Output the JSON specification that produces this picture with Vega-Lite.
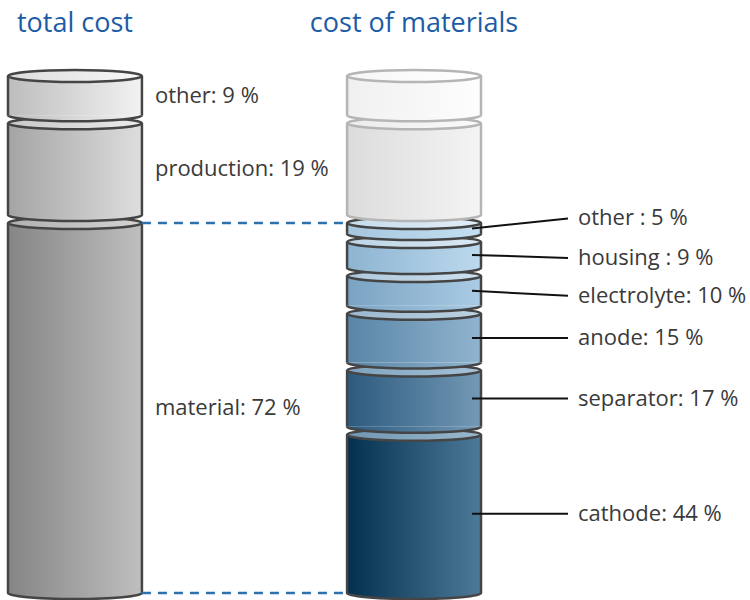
{
  "$schema": "https://vega.github.io/schema/vega-lite/v6.json",
  "width": 750,
  "height": 600,
  "autosize": "none",
  "padding": 0,
  "background": "white",
  "config": {"view": {"stroke": null}},
  "data": {"values": [
    {"col": "total cost", "key": "t_material", "kind": "total", "pct": 72, "base": 100, "ord": 1, "label": "material: 72 %"},
    {"col": "total cost", "key": "t_production", "kind": "total", "pct": 19, "base": 100, "ord": 2, "label": "production: 19 %"},
    {"col": "total cost", "key": "t_other", "kind": "total", "pct": 9, "base": 100, "ord": 3, "label": "other: 9 %"},
    {"col": "cost of materials", "key": "m_cathode", "kind": "mat", "pct": 44, "base": 72, "ord": 1, "label": "cathode: 44 %"},
    {"col": "cost of materials", "key": "m_separator", "kind": "mat", "pct": 17, "base": 72, "ord": 2, "label": "separator: 17 %"},
    {"col": "cost of materials", "key": "m_anode", "kind": "mat", "pct": 15, "base": 72, "ord": 3, "label": "anode: 15 %"},
    {"col": "cost of materials", "key": "m_electrolyte", "kind": "mat", "pct": 10, "base": 72, "ord": 4, "label": "electrolyte: 10 %"},
    {"col": "cost of materials", "key": "m_housing", "kind": "mat", "pct": 9, "base": 72, "ord": 5, "label": "housing : 9 %"},
    {"col": "cost of materials", "key": "m_other", "kind": "mat", "pct": 5, "base": 72, "ord": 6, "label": "other : 5 %"},
    {"col": "cost of materials", "key": "g_production", "kind": "ghost", "pct": 19, "base": 100, "ord": 7, "label": ""},
    {"col": "cost of materials", "key": "g_other", "kind": "ghost", "pct": 9, "base": 100, "ord": 8, "label": ""}
  ]},
  "transform": [
    {"calculate": "datum.pct * datum.base / 100", "as": "share"},
    {"stack": "share", "groupby": ["col"], "sort": [{"field": "ord", "order": "ascending"}], "as": ["y0", "y1"]},
    {"calculate": "(datum.y0 + datum.y1) / 2", "as": "mid"}
  ],
  "layer": [
    {"transform": [{"filter": "datum.key == 't_other'"}],
     "mark": {"type": "bar", "yOffset": 4, "y2Offset": -4, "fill": {"gradient": "linear", "stops": [{"offset": 0, "color": "#bdbdbd"}, {"offset": 1, "color": "#f2f2f2"}]}},
     "encoding": {
       "x": {"field": "col", "type": "nominal", "sort": null,
         "scale": {"type": "band", "domain": ["total cost", "cost of materials"], "range": [8, 481], "paddingInner": 0.605, "paddingOuter": 0},
         "axis": {"orient": "top", "title": null, "domain": false, "ticks": false, "grid": false, "labelAngle": 0, "labelLimit": 0, "labelFont": "Open Sans", "labelFontSize": 27, "labelColor": "#1b5ca6", "labelPadding": 0, "labelBaseline": "alphabetic", "offset": -31}},
       "y": {"field": "y1", "type": "quantitative", "scale": {"domain": [0, 100], "range": [597, 72], "nice": false, "zero": false}, "axis": null},
       "y2": {"field": "y0"}}},
    {"transform": [{"filter": "datum.key == 't_production'"}],
     "mark": {"type": "bar", "yOffset": 4, "y2Offset": -4, "fill": {"gradient": "linear", "stops": [{"offset": 0, "color": "#a4a4a4"}, {"offset": 1, "color": "#dedede"}]}},
     "encoding": {"x": {"field": "col", "type": "nominal"}, "y": {"field": "y1", "type": "quantitative", "axis": null}, "y2": {"field": "y0"}}},
    {"transform": [{"filter": "datum.key == 't_material'"}],
     "mark": {"type": "bar", "yOffset": 4, "y2Offset": -4, "fill": {"gradient": "linear", "stops": [{"offset": 0, "color": "#858585"}, {"offset": 1, "color": "#bfbfbf"}]}},
     "encoding": {"x": {"field": "col", "type": "nominal"}, "y": {"field": "y1", "type": "quantitative", "axis": null}, "y2": {"field": "y0"}}},
    {"transform": [{"filter": "datum.key == 'm_cathode'"}],
     "mark": {"type": "bar", "yOffset": 4, "y2Offset": -4, "fill": {"gradient": "linear", "stops": [{"offset": 0, "color": "#04304f"}, {"offset": 1, "color": "#4c7a98"}]}},
     "encoding": {"x": {"field": "col", "type": "nominal"}, "y": {"field": "y1", "type": "quantitative", "axis": null}, "y2": {"field": "y0"}}},
    {"transform": [{"filter": "datum.key == 'm_separator'"}],
     "mark": {"type": "bar", "yOffset": 4, "y2Offset": -4, "fill": {"gradient": "linear", "stops": [{"offset": 0, "color": "#2c5a7e"}, {"offset": 1, "color": "#7399b5"}]}},
     "encoding": {"x": {"field": "col", "type": "nominal"}, "y": {"field": "y1", "type": "quantitative", "axis": null}, "y2": {"field": "y0"}}},
    {"transform": [{"filter": "datum.key == 'm_anode'"}],
     "mark": {"type": "bar", "yOffset": 4, "y2Offset": -4, "fill": {"gradient": "linear", "stops": [{"offset": 0, "color": "#5985a6"}, {"offset": 1, "color": "#90b4cf"}]}},
     "encoding": {"x": {"field": "col", "type": "nominal"}, "y": {"field": "y1", "type": "quantitative", "axis": null}, "y2": {"field": "y0"}}},
    {"transform": [{"filter": "datum.key == 'm_electrolyte'"}],
     "mark": {"type": "bar", "yOffset": 4, "y2Offset": -4, "fill": {"gradient": "linear", "stops": [{"offset": 0, "color": "#7aa3c2"}, {"offset": 1, "color": "#aacbe4"}]}},
     "encoding": {"x": {"field": "col", "type": "nominal"}, "y": {"field": "y1", "type": "quantitative", "axis": null}, "y2": {"field": "y0"}}},
    {"transform": [{"filter": "datum.key == 'm_housing'"}],
     "mark": {"type": "bar", "yOffset": 4, "y2Offset": -4, "fill": {"gradient": "linear", "stops": [{"offset": 0, "color": "#8db4d1"}, {"offset": 1, "color": "#bcd9ee"}]}},
     "encoding": {"x": {"field": "col", "type": "nominal"}, "y": {"field": "y1", "type": "quantitative", "axis": null}, "y2": {"field": "y0"}}},
    {"transform": [{"filter": "datum.key == 'm_other'"}],
     "mark": {"type": "bar", "yOffset": 4, "y2Offset": -4, "fill": {"gradient": "linear", "stops": [{"offset": 0, "color": "#a6c6de"}, {"offset": 1, "color": "#c4dff2"}]}},
     "encoding": {"x": {"field": "col", "type": "nominal"}, "y": {"field": "y1", "type": "quantitative", "axis": null}, "y2": {"field": "y0"}}},
    {"transform": [{"filter": "datum.key == 'g_production'"}],
     "mark": {"type": "bar", "yOffset": 4, "y2Offset": -4, "fill": {"gradient": "linear", "stops": [{"offset": 0, "color": "#dcdcdc"}, {"offset": 1, "color": "#f4f4f4"}]}},
     "encoding": {"x": {"field": "col", "type": "nominal"}, "y": {"field": "y1", "type": "quantitative", "axis": null}, "y2": {"field": "y0"}}},
    {"transform": [{"filter": "datum.key == 'g_other'"}],
     "mark": {"type": "bar", "yOffset": 4, "y2Offset": -4, "fill": {"gradient": "linear", "stops": [{"offset": 0, "color": "#f0f0f0"}, {"offset": 1, "color": "#fdfdfd"}]}},
     "encoding": {"x": {"field": "col", "type": "nominal"}, "y": {"field": "y1", "type": "quantitative", "axis": null}, "y2": {"field": "y0"}}},

    {"mark": {"type": "rule", "yOffset": 4, "y2Offset": -4, "strokeWidth": 2.5},
     "encoding": {
       "x": {"field": "col", "type": "nominal", "bandPosition": 0},
       "y": {"field": "y1", "type": "quantitative", "axis": null},
       "y2": {"field": "y0"},
       "stroke": {"field": "kind", "type": "nominal", "legend": null, "scale": {"domain": ["total", "mat", "ghost"], "range": ["#454545", "#454545", "#b5b5b5"]}}}},
    {"mark": {"type": "rule", "yOffset": 4, "y2Offset": -4, "strokeWidth": 2.5},
     "encoding": {
       "x": {"field": "col", "type": "nominal", "bandPosition": 1},
       "y": {"field": "y1", "type": "quantitative", "axis": null},
       "y2": {"field": "y0"},
       "stroke": {"field": "kind", "type": "nominal", "legend": null}}},

    {"transform": [{"filter": "datum.key == 't_other'"}],
     "mark": {"type": "point", "filled": true, "opacity": 1, "yOffset": 4, "strokeWidth": 2.5, "size": 17930, "shape": "M-1,0A1,0.09,0,1,1,1,0A1,0.09,0,1,1,-1,0Z", "stroke": "#454545", "fill": {"gradient": "linear", "stops": [{"offset": 0, "color": "#dcdcdc"}, {"offset": 1, "color": "#f8f8f8"}]}},
     "encoding": {"x": {"field": "col", "type": "nominal"}, "y": {"field": "y1", "type": "quantitative", "axis": null}}},
    {"transform": [{"filter": "datum.key == 't_production'"}],
     "mark": {"type": "point", "filled": true, "opacity": 1, "yOffset": 4, "strokeWidth": 2.5, "size": 17930, "shape": "M-1,0A1,0.09,0,1,1,1,0A1,0.09,0,1,1,-1,0Z", "stroke": "#454545", "fill": {"gradient": "linear", "stops": [{"offset": 0, "color": "#c8c8c8"}, {"offset": 1, "color": "#ececec"}]}},
     "encoding": {"x": {"field": "col", "type": "nominal"}, "y": {"field": "y1", "type": "quantitative", "axis": null}}},
    {"transform": [{"filter": "datum.key == 't_material'"}],
     "mark": {"type": "point", "filled": true, "opacity": 1, "yOffset": 4, "strokeWidth": 2.5, "size": 17930, "shape": "M-1,0A1,0.09,0,1,1,1,0A1,0.09,0,1,1,-1,0Z", "stroke": "#454545", "fill": {"gradient": "linear", "stops": [{"offset": 0, "color": "#b0b0b0"}, {"offset": 1, "color": "#d4d4d4"}]}},
     "encoding": {"x": {"field": "col", "type": "nominal"}, "y": {"field": "y1", "type": "quantitative", "axis": null}}},
    {"transform": [{"filter": "datum.key == 'm_cathode'"}],
     "mark": {"type": "point", "filled": true, "opacity": 1, "yOffset": 4, "strokeWidth": 2.5, "size": 17930, "shape": "M-1,0A1,0.09,0,1,1,1,0A1,0.09,0,1,1,-1,0Z", "stroke": "#454545", "fill": {"gradient": "linear", "stops": [{"offset": 0, "color": "#7096b2"}, {"offset": 1, "color": "#9ab8cc"}]}},
     "encoding": {"x": {"field": "col", "type": "nominal"}, "y": {"field": "y1", "type": "quantitative", "axis": null}}},
    {"transform": [{"filter": "datum.key == 'm_separator'"}],
     "mark": {"type": "point", "filled": true, "opacity": 1, "yOffset": 4, "strokeWidth": 2.5, "size": 17930, "shape": "M-1,0A1,0.09,0,1,1,1,0A1,0.09,0,1,1,-1,0Z", "stroke": "#454545", "fill": {"gradient": "linear", "stops": [{"offset": 0, "color": "#7ea2be"}, {"offset": 1, "color": "#a6c2d6"}]}},
     "encoding": {"x": {"field": "col", "type": "nominal"}, "y": {"field": "y1", "type": "quantitative", "axis": null}}},
    {"transform": [{"filter": "datum.key == 'm_anode'"}],
     "mark": {"type": "point", "filled": true, "opacity": 1, "yOffset": 4, "strokeWidth": 2.5, "size": 17930, "shape": "M-1,0A1,0.09,0,1,1,1,0A1,0.09,0,1,1,-1,0Z", "stroke": "#454545", "fill": {"gradient": "linear", "stops": [{"offset": 0, "color": "#9ab8cf"}, {"offset": 1, "color": "#bcd2e2"}]}},
     "encoding": {"x": {"field": "col", "type": "nominal"}, "y": {"field": "y1", "type": "quantitative", "axis": null}}},
    {"transform": [{"filter": "datum.key == 'm_electrolyte'"}],
     "mark": {"type": "point", "filled": true, "opacity": 1, "yOffset": 4, "strokeWidth": 2.5, "size": 17930, "shape": "M-1,0A1,0.09,0,1,1,1,0A1,0.09,0,1,1,-1,0Z", "stroke": "#454545", "fill": {"gradient": "linear", "stops": [{"offset": 0, "color": "#aec8dc"}, {"offset": 1, "color": "#cde0ee"}]}},
     "encoding": {"x": {"field": "col", "type": "nominal"}, "y": {"field": "y1", "type": "quantitative", "axis": null}}},
    {"transform": [{"filter": "datum.key == 'm_housing'"}],
     "mark": {"type": "point", "filled": true, "opacity": 1, "yOffset": 4, "strokeWidth": 2.5, "size": 17930, "shape": "M-1,0A1,0.09,0,1,1,1,0A1,0.09,0,1,1,-1,0Z", "stroke": "#454545", "fill": {"gradient": "linear", "stops": [{"offset": 0, "color": "#bcd4e6"}, {"offset": 1, "color": "#dae9f4"}]}},
     "encoding": {"x": {"field": "col", "type": "nominal"}, "y": {"field": "y1", "type": "quantitative", "axis": null}}},
    {"transform": [{"filter": "datum.key == 'm_other'"}],
     "mark": {"type": "point", "filled": true, "opacity": 1, "yOffset": 4, "strokeWidth": 2.5, "size": 17930, "shape": "M-1,0A1,0.09,0,1,1,1,0A1,0.09,0,1,1,-1,0Z", "stroke": "#454545", "fill": {"gradient": "linear", "stops": [{"offset": 0, "color": "#c6dcec"}, {"offset": 1, "color": "#e2eef8"}]}},
     "encoding": {"x": {"field": "col", "type": "nominal"}, "y": {"field": "y1", "type": "quantitative", "axis": null}}},
    {"transform": [{"filter": "datum.key == 'g_production'"}],
     "mark": {"type": "point", "filled": true, "opacity": 1, "yOffset": 4, "strokeWidth": 2.5, "size": 17930, "shape": "M-1,0A1,0.09,0,1,1,1,0A1,0.09,0,1,1,-1,0Z", "stroke": "#b5b5b5", "fill": {"gradient": "linear", "stops": [{"offset": 0, "color": "#ececec"}, {"offset": 1, "color": "#fafafa"}]}},
     "encoding": {"x": {"field": "col", "type": "nominal"}, "y": {"field": "y1", "type": "quantitative", "axis": null}}},
    {"transform": [{"filter": "datum.key == 'g_other'"}],
     "mark": {"type": "point", "filled": true, "opacity": 1, "yOffset": 4, "strokeWidth": 2.5, "size": 17930, "shape": "M-1,0A1,0.09,0,1,1,1,0A1,0.09,0,1,1,-1,0Z", "stroke": "#b5b5b5", "fill": {"gradient": "linear", "stops": [{"offset": 0, "color": "#f6f6f6"}, {"offset": 1, "color": "#ffffff"}]}},
     "encoding": {"x": {"field": "col", "type": "nominal"}, "y": {"field": "y1", "type": "quantitative", "axis": null}}},

    {"transform": [{"filter": "datum.key == 't_other'"}],
     "mark": {"type": "point", "filled": true, "opacity": 1, "yOffset": -4, "strokeWidth": 2.5, "size": 17930, "shape": "M-1,0A1,0.09,0,0,0,1,0", "stroke": "#454545", "fill": {"gradient": "linear", "stops": [{"offset": 0, "color": "#bdbdbd"}, {"offset": 1, "color": "#f2f2f2"}]}},
     "encoding": {"x": {"field": "col", "type": "nominal"}, "y": {"field": "y0", "type": "quantitative", "axis": null}}},
    {"transform": [{"filter": "datum.key == 't_production'"}],
     "mark": {"type": "point", "filled": true, "opacity": 1, "yOffset": -4, "strokeWidth": 2.5, "size": 17930, "shape": "M-1,0A1,0.09,0,0,0,1,0", "stroke": "#454545", "fill": {"gradient": "linear", "stops": [{"offset": 0, "color": "#a4a4a4"}, {"offset": 1, "color": "#dedede"}]}},
     "encoding": {"x": {"field": "col", "type": "nominal"}, "y": {"field": "y0", "type": "quantitative", "axis": null}}},
    {"transform": [{"filter": "datum.key == 't_material'"}],
     "mark": {"type": "point", "filled": true, "opacity": 1, "yOffset": -4, "strokeWidth": 2.5, "size": 17930, "shape": "M-1,0A1,0.09,0,0,0,1,0", "stroke": "#454545", "fill": {"gradient": "linear", "stops": [{"offset": 0, "color": "#858585"}, {"offset": 1, "color": "#bfbfbf"}]}},
     "encoding": {"x": {"field": "col", "type": "nominal"}, "y": {"field": "y0", "type": "quantitative", "axis": null}}},
    {"transform": [{"filter": "datum.key == 'm_cathode'"}],
     "mark": {"type": "point", "filled": true, "opacity": 1, "yOffset": -4, "strokeWidth": 2.5, "size": 17930, "shape": "M-1,0A1,0.09,0,0,0,1,0", "stroke": "#454545", "fill": {"gradient": "linear", "stops": [{"offset": 0, "color": "#04304f"}, {"offset": 1, "color": "#4c7a98"}]}},
     "encoding": {"x": {"field": "col", "type": "nominal"}, "y": {"field": "y0", "type": "quantitative", "axis": null}}},
    {"transform": [{"filter": "datum.key == 'm_separator'"}],
     "mark": {"type": "point", "filled": true, "opacity": 1, "yOffset": -4, "strokeWidth": 2.5, "size": 17930, "shape": "M-1,0A1,0.09,0,0,0,1,0", "stroke": "#454545", "fill": {"gradient": "linear", "stops": [{"offset": 0, "color": "#2c5a7e"}, {"offset": 1, "color": "#7399b5"}]}},
     "encoding": {"x": {"field": "col", "type": "nominal"}, "y": {"field": "y0", "type": "quantitative", "axis": null}}},
    {"transform": [{"filter": "datum.key == 'm_anode'"}],
     "mark": {"type": "point", "filled": true, "opacity": 1, "yOffset": -4, "strokeWidth": 2.5, "size": 17930, "shape": "M-1,0A1,0.09,0,0,0,1,0", "stroke": "#454545", "fill": {"gradient": "linear", "stops": [{"offset": 0, "color": "#5985a6"}, {"offset": 1, "color": "#90b4cf"}]}},
     "encoding": {"x": {"field": "col", "type": "nominal"}, "y": {"field": "y0", "type": "quantitative", "axis": null}}},
    {"transform": [{"filter": "datum.key == 'm_electrolyte'"}],
     "mark": {"type": "point", "filled": true, "opacity": 1, "yOffset": -4, "strokeWidth": 2.5, "size": 17930, "shape": "M-1,0A1,0.09,0,0,0,1,0", "stroke": "#454545", "fill": {"gradient": "linear", "stops": [{"offset": 0, "color": "#7aa3c2"}, {"offset": 1, "color": "#aacbe4"}]}},
     "encoding": {"x": {"field": "col", "type": "nominal"}, "y": {"field": "y0", "type": "quantitative", "axis": null}}},
    {"transform": [{"filter": "datum.key == 'm_housing'"}],
     "mark": {"type": "point", "filled": true, "opacity": 1, "yOffset": -4, "strokeWidth": 2.5, "size": 17930, "shape": "M-1,0A1,0.09,0,0,0,1,0", "stroke": "#454545", "fill": {"gradient": "linear", "stops": [{"offset": 0, "color": "#8db4d1"}, {"offset": 1, "color": "#bcd9ee"}]}},
     "encoding": {"x": {"field": "col", "type": "nominal"}, "y": {"field": "y0", "type": "quantitative", "axis": null}}},
    {"transform": [{"filter": "datum.key == 'm_other'"}],
     "mark": {"type": "point", "filled": true, "opacity": 1, "yOffset": -4, "strokeWidth": 2.5, "size": 17930, "shape": "M-1,0A1,0.09,0,0,0,1,0", "stroke": "#454545", "fill": {"gradient": "linear", "stops": [{"offset": 0, "color": "#a6c6de"}, {"offset": 1, "color": "#c4dff2"}]}},
     "encoding": {"x": {"field": "col", "type": "nominal"}, "y": {"field": "y0", "type": "quantitative", "axis": null}}},
    {"transform": [{"filter": "datum.key == 'g_production'"}],
     "mark": {"type": "point", "filled": true, "opacity": 1, "yOffset": -4, "strokeWidth": 2.5, "size": 17930, "shape": "M-1,0A1,0.09,0,0,0,1,0", "stroke": "#b5b5b5", "fill": {"gradient": "linear", "stops": [{"offset": 0, "color": "#dcdcdc"}, {"offset": 1, "color": "#f4f4f4"}]}},
     "encoding": {"x": {"field": "col", "type": "nominal"}, "y": {"field": "y0", "type": "quantitative", "axis": null}}},
    {"transform": [{"filter": "datum.key == 'g_other'"}],
     "mark": {"type": "point", "filled": true, "opacity": 1, "yOffset": -4, "strokeWidth": 2.5, "size": 17930, "shape": "M-1,0A1,0.09,0,0,0,1,0", "stroke": "#b5b5b5", "fill": {"gradient": "linear", "stops": [{"offset": 0, "color": "#f0f0f0"}, {"offset": 1, "color": "#fdfdfd"}]}},
     "encoding": {"x": {"field": "col", "type": "nominal"}, "y": {"field": "y0", "type": "quantitative", "axis": null}}},

    {"transform": [{"filter": "datum.key == 'm_cathode' || datum.key == 'm_separator' || datum.key == 'm_anode'"}],
     "mark": {"type": "rule", "xOffset": -9, "x2Offset": 87, "strokeWidth": 2, "color": "#111111"},
     "encoding": {
       "x": {"field": "col", "type": "nominal", "bandPosition": 1},
       "x2": {"field": "col", "bandPosition": 1},
       "y": {"field": "mid", "type": "quantitative", "axis": null}}},
    {"transform": [{"filter": "datum.key == 'm_electrolyte'"}],
     "mark": {"type": "rule", "xOffset": -9, "x2Offset": 87, "y2Offset": 5, "strokeWidth": 2, "color": "#111111"},
     "encoding": {
       "x": {"field": "col", "type": "nominal", "bandPosition": 1},
       "x2": {"field": "col", "bandPosition": 1},
       "y": {"field": "mid", "type": "quantitative", "axis": null},
       "y2": {"field": "mid"}}},
    {"transform": [{"filter": "datum.key == 'm_housing'"}],
     "mark": {"type": "rule", "xOffset": -9, "x2Offset": 87, "y2Offset": 3, "strokeWidth": 2, "color": "#111111"},
     "encoding": {
       "x": {"field": "col", "type": "nominal", "bandPosition": 1},
       "x2": {"field": "col", "bandPosition": 1},
       "y": {"field": "mid", "type": "quantitative", "axis": null},
       "y2": {"field": "mid"}}},
    {"transform": [{"filter": "datum.key == 'm_other'"}],
     "mark": {"type": "rule", "xOffset": -9, "x2Offset": 87, "y2Offset": -10, "strokeWidth": 2, "color": "#111111"},
     "encoding": {
       "x": {"field": "col", "type": "nominal", "bandPosition": 1},
       "x2": {"field": "col", "bandPosition": 1},
       "y": {"field": "mid", "type": "quantitative", "axis": null},
       "y2": {"field": "mid"}}},

    {"transform": [{"filter": "datum.key == 't_material'"}],
     "mark": {"type": "rule", "yOffset": 4, "strokeWidth": 2.5, "strokeDash": [9, 7], "color": "#2e72b0"},
     "encoding": {
       "x": {"field": "col", "type": "nominal", "bandPosition": 1},
       "x2": {"datum": "cost of materials", "bandPosition": 0},
       "y": {"field": "y1", "type": "quantitative", "axis": null}}},
    {"transform": [{"filter": "datum.key == 't_material'"}],
     "mark": {"type": "rule", "yOffset": -4, "strokeWidth": 2.5, "strokeDash": [9, 7], "color": "#2e72b0"},
     "encoding": {
       "x": {"field": "col", "type": "nominal", "bandPosition": 1},
       "x2": {"datum": "cost of materials", "bandPosition": 0},
       "y": {"field": "y0", "type": "quantitative", "axis": null}}},

    {"transform": [{"filter": "datum.kind == 'total'"}],
     "mark": {"type": "text", "align": "left", "baseline": "middle", "dx": 13, "font": "Open Sans", "fontSize": 22, "color": "#3a3a3a"},
     "encoding": {
       "x": {"field": "col", "type": "nominal", "bandPosition": 1},
       "y": {"field": "mid", "type": "quantitative", "axis": null},
       "text": {"field": "label"}}},
    {"transform": [{"filter": "datum.key == 'm_cathode' || datum.key == 'm_separator' || datum.key == 'm_anode'"}],
     "mark": {"type": "text", "align": "left", "baseline": "middle", "dx": 97, "font": "Open Sans", "fontSize": 22, "color": "#3a3a3a"},
     "encoding": {
       "x": {"field": "col", "type": "nominal", "bandPosition": 1},
       "y": {"field": "mid", "type": "quantitative", "axis": null},
       "text": {"field": "label"}}},
    {"transform": [{"filter": "datum.key == 'm_electrolyte'"}],
     "mark": {"type": "text", "align": "left", "baseline": "middle", "dx": 97, "dy": 5, "font": "Open Sans", "fontSize": 22, "color": "#3a3a3a"},
     "encoding": {
       "x": {"field": "col", "type": "nominal", "bandPosition": 1},
       "y": {"field": "mid", "type": "quantitative", "axis": null},
       "text": {"field": "label"}}},
    {"transform": [{"filter": "datum.key == 'm_housing'"}],
     "mark": {"type": "text", "align": "left", "baseline": "middle", "dx": 97, "dy": 3, "font": "Open Sans", "fontSize": 22, "color": "#3a3a3a"},
     "encoding": {
       "x": {"field": "col", "type": "nominal", "bandPosition": 1},
       "y": {"field": "mid", "type": "quantitative", "axis": null},
       "text": {"field": "label"}}},
    {"transform": [{"filter": "datum.key == 'm_other'"}],
     "mark": {"type": "text", "align": "left", "baseline": "middle", "dx": 97, "dy": -10, "font": "Open Sans", "fontSize": 22, "color": "#3a3a3a"},
     "encoding": {
       "x": {"field": "col", "type": "nominal", "bandPosition": 1},
       "y": {"field": "mid", "type": "quantitative", "axis": null},
       "text": {"field": "label"}}}
  ]
}
